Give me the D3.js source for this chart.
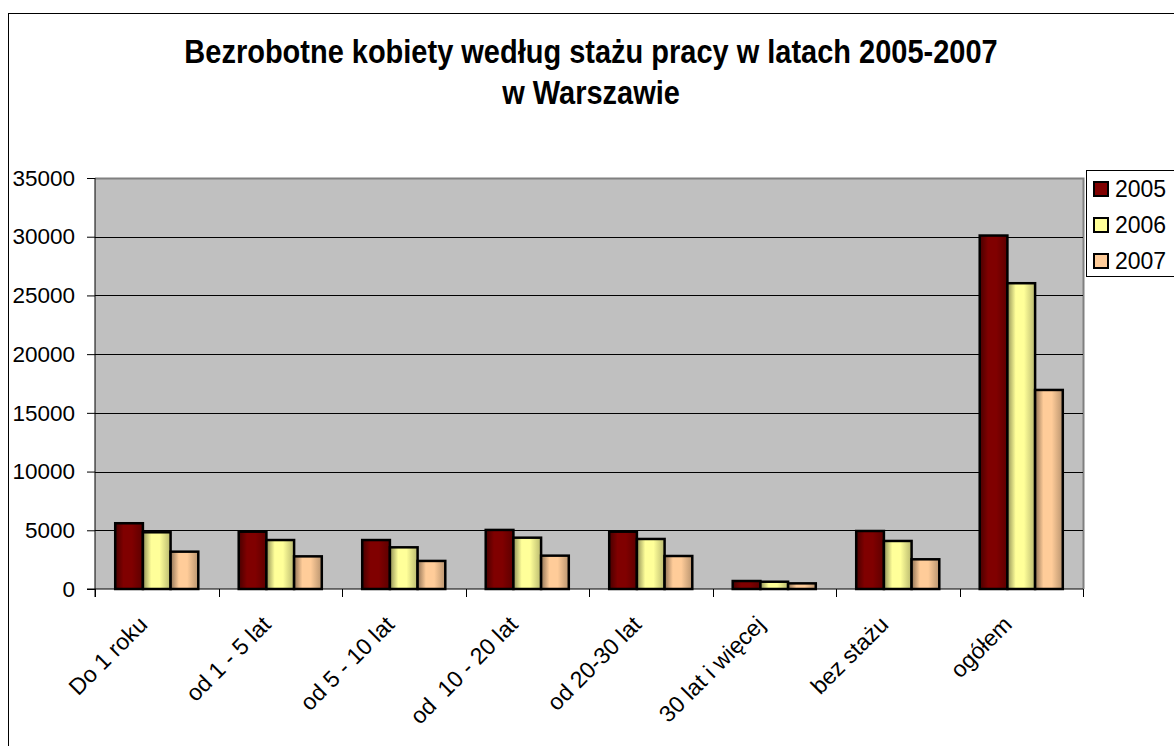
<!DOCTYPE html>
<html>
<head>
<meta charset="utf-8">
<script src="https://cdn.jsdelivr.net/npm/d3@7"></script>
<style>
  body { margin: 0; background: #fff; }
  svg { display: block; font-family: "Liberation Sans", Arial, sans-serif; }
</style>
</head>
<body>
<div id="wykres"></div>
<script>
// dane
const kategorie = ["Do 1 roku", "od 1 - 5 lat", "od 5 - 10 lat", "od  10 - 20 lat",
    "od 20-30 lat", "30 lat i więcej", "bez stażu", "ogółem"];
const lata = ["2005", "2006", "2007"];
const wartosci2005 = [5600, 4880, 4170, 5030, 4880, 680, 4940, 30100];
const wartosci2006 = [4830, 4170, 3550, 4370, 4260, 620, 4090, 26040];
const wartosci2007 = [3180, 2780, 2390, 2840, 2810, 480, 2530, 16950];
const yTicki = [0, 5000, 10000, 15000, 20000, 25000, 30000, 35000];
const kolory = ["#800000", "#ffff99", "#ffcc99"];

const serie = [wartosci2005, wartosci2006, wartosci2007];

const szer = 1174, wys = 746;
const obszar = { left: 95, right: 1083, top: 178, bottom: 589 };

const svg = d3.select("#wykres").append("svg")
    .attr("width", szer).attr("height", wys);

// gradienty dla słupków
const defs = svg.append("defs");
kolory.forEach((k, i) => {
    const g = defs.append("linearGradient")
        .attr("id", "grad" + i)
        .attr("x1", "0%").attr("x2", "100%").attr("y1", "0%").attr("y2", "0%");
    const c = d3.color(k);
    g.append("stop").attr("offset", "0%").attr("stop-color", c.darker(1.6));
    g.append("stop").attr("offset", "30%").attr("stop-color", k);
    g.append("stop").attr("offset", "60%").attr("stop-color", k);
    g.append("stop").attr("offset", "100%").attr("stop-color", c.darker(0.9));
});

// ramka wykresu
svg.append("rect")
    .attr("x", 8.5).attr("y", 13.5)
    .attr("width", szer).attr("height", wys)
    .attr("fill", "#fff").attr("stroke", "#000").attr("stroke-width", 1);

// tytuł
const tytul = svg.append("text")
    .attr("text-anchor", "middle")
    .attr("transform", "translate(591,0) scale(1,1.12)")
    .style("font-size", "29px").style("font-weight", "bold");
tytul.append("tspan").attr("x", 0).attr("y", 56).text("Bezrobotne kobiety według stażu pracy w latach 2005-2007");
tytul.append("tspan").attr("x", 0).attr("y", 93).text("w Warszawie");

// skale
const x = d3.scaleBand().domain(kategorie).range([obszar.left, obszar.right]);
const xRok = d3.scaleBand().domain(lata).range([0, x.bandwidth()]).paddingOuter(0.73);
const y = d3.scaleLinear().domain([0, 35000]).range([obszar.bottom, obszar.top]);

// tło obszaru
svg.append("rect")
    .attr("x", obszar.left).attr("y", obszar.top)
    .attr("width", obszar.right - obszar.left).attr("height", obszar.bottom - obszar.top)
    .attr("fill", "#c0c0c0");
svg.append("path")
    .attr("d", `M${obszar.left},${obszar.top + 0.5}H${obszar.right + 0.5}V${obszar.bottom}`)
    .attr("fill", "none").attr("stroke", "#808080").attr("stroke-width", 2);

// linie siatki
svg.append("g").selectAll("line")
    .data(yTicki.slice(1, -1))
    .join("line")
    .attr("x1", obszar.left).attr("x2", obszar.right)
    .attr("y1", d => Math.round(y(d)) + 0.5).attr("y2", d => Math.round(y(d)) + 0.5)
    .attr("stroke", "#000").attr("stroke-width", 1);

// słupki
const grupy = svg.append("g").selectAll("g")
    .data(kategorie)
    .join("g")
    .attr("transform", d => `translate(${x(d)},0)`);

grupy.selectAll("rect")
    .data((d, i) => lata.map((rok, s) => ({ rok, s, v: serie[s][i] })))
    .join("rect")
    .attr("x", d => xRok(d.rok))
    .attr("y", d => y(d.v))
    .attr("width", xRok.bandwidth())
    .attr("height", d => y(0) - y(d.v))
    .attr("fill", d => `url(#grad${d.s})`)
    .attr("stroke", "#000").attr("stroke-width", 2.5);

// oś Y
const osY = svg.append("g")
    .attr("transform", `translate(${obszar.left},0)`)
    .call(d3.axisLeft(y).tickValues(yTicki).tickSize(8).tickPadding(12).tickFormat(d3.format("d")));
osY.selectAll("text").style("font-size", "22.5px").attr("fill", "#000");
osY.selectAll("line").attr("stroke", "#000");
osY.select(".domain").attr("stroke", "#000").attr("d", `M0,${obszar.top}V${obszar.bottom + 8}`);

// oś X
const osX = svg.append("g")
    .attr("transform", `translate(0,${obszar.bottom})`);
osX.append("line")
    .attr("x1", obszar.left - 8).attr("x2", obszar.right)
    .attr("stroke", "#000");
osX.selectAll("line.tick")
    .data(kategorie.concat([null]))
    .join("line")
    .attr("class", "tick")
    .attr("x1", (d, i) => Math.round(obszar.left + i * x.step()) + 0.5)
    .attr("x2", (d, i) => Math.round(obszar.left + i * x.step()) + 0.5)
    .attr("y1", 0).attr("y2", 8)
    .attr("stroke", "#000");
osX.selectAll("text")
    .data(kategorie)
    .join("text")
    .attr("transform", d => `translate(${x(d) + x.bandwidth() / 2 - 8},${37}) rotate(-45)`)
    .attr("text-anchor", "end")
    .style("font-size", "23px")
    .style("white-space", "pre")
    .text(d => d);

// legenda
const leg = svg.append("g");
leg.append("rect")
    .attr("x", 1086.5).attr("y", 170.5)
    .attr("width", 100).attr("height", 106)
    .attr("fill", "#fff").attr("stroke", "#000");
const pozycje = leg.selectAll("g")
    .data(lata)
    .join("g")
    .attr("transform", (d, i) => `translate(1094,${182 + i * 36})`);
pozycje.append("rect")
    .attr("width", 14).attr("height", 14)
    .attr("fill", (d, i) => kolory[i])
    .attr("stroke", "#000").attr("stroke-width", 2);
pozycje.append("text")
    .attr("x", 21).attr("y", 15)
    .style("font-size", "23px")
    .text(d => d);
</script>
</body>
</html>
